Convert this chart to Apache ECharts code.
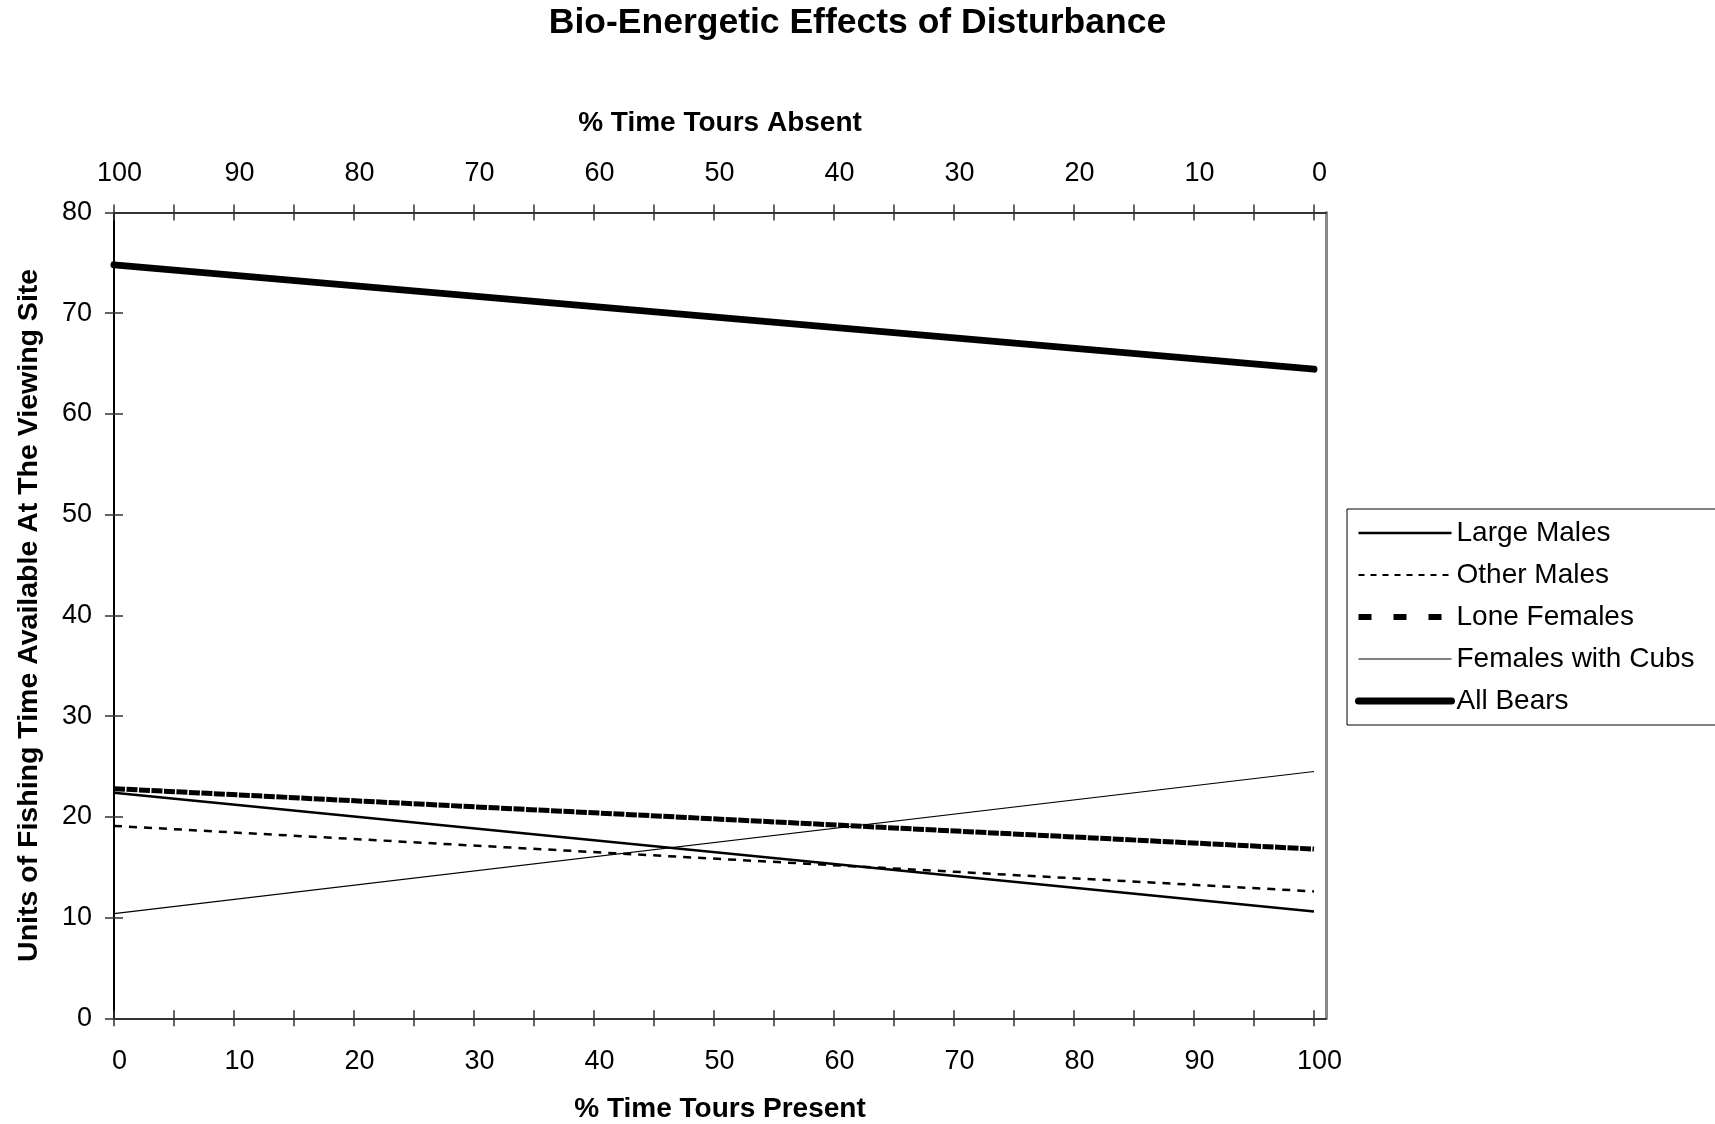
<!DOCTYPE html>
<html>
<head>
<meta charset="utf-8">
<script src="https://cdn.jsdelivr.net/npm/echarts@6/dist/echarts.min.js"></script>
<style>
html,body{margin:0;padding:0;background:#fff;}
#chart{width:1715px;height:1124px;}
</style>
</head>
<body>
<div id="chart"></div>
<script>
// ---- data ----
const xPresent = [0, 100];                 // % Time Tours Present
const largeMales = [22.4, 10.6];
const otherMales = [19.1, 12.6];
const loneFemales = [22.8, 16.8];
const femalesWithCubs = [10.4, 24.5];
const allBears = [74.8, 64.45];

const presentTickValues = [0,5,10,15,20,25,30,35,40,45,50,55,60,65,70,75,80,85,90,95,100];
const presentLabelValues = [0,10,20,30,40,50,60,70,80,90,100];
const absentLabelValues = [100,90,80,70,60,50,40,30,20,10,0];
const absentTickValues = [100,95,90,85,80,75,70,65,60,55,50,45,40,35,30,25,20,15,10,5,0];

const FONT = "'Liberation Sans', Arial, sans-serif";

function pairs(xs, ys) { return xs.map((x, i) => [x, ys[i]]); }

const chart = echarts.init(document.getElementById('chart'), null, {renderer: 'canvas'});

const tickStyle = {color: '#333', width: 1.5};
const baseX = {
  type: 'value', min: 0, max: 101, gridIndex: 0,
  splitLine: {show: false}
};

const option = {
  backgroundColor: '#fff',
  animation: false,
  title: {
    text: 'Bio-Energetic Effects of Disturbance',
    left: 'center', top: 5, padding: 0,
    textStyle: {fontFamily: FONT, fontSize: 35.5, fontWeight: 'bold', color: '#000'}
  },
  grid: {left: 114, top: 212.5, right: 389, bottom: 105.7, outerBoundsMode: 'none', containLabel: false},
  legend: {
    orient: 'vertical',
    left: 1347, top: 509,
    padding: [9, 45, 9, 8],
    borderColor: '#000', borderWidth: 1,
    itemWidth: 93, itemHeight: 10, itemGap: 12,
    itemStyle: {opacity: 0},
    lineStyle: {width: 'inherit'},
    textStyle: {fontFamily: FONT, fontSize: 28, color: '#000', lineHeight: 30},
    data: ['Large Males', 'Other Males', 'Lone Females', 'Females with Cubs', 'All Bears']
  },
  xAxis: [
    Object.assign({}, baseX, {
      position: 'bottom',
      name: '% Time Tours Present', nameLocation: 'middle', nameGap: 77,
      nameTextStyle: {fontFamily: FONT, fontSize: 28, fontWeight: 'bold', color: '#000'},
      axisLine: {show: true, onZero: false, lineStyle: {color: '#333', width: 2}},
      axisTick: {show: true, inside: false, length: 8, lineStyle: tickStyle, customValues: presentTickValues},
      axisLabel: {show: true, margin: 30, padding: [0, 0, 0, 11], fontFamily: FONT, fontSize: 27, color: '#000', customValues: presentLabelValues}
    }),
    Object.assign({}, baseX, {
      position: 'bottom',
      axisLine: {show: false, onZero: false},
      axisTick: {show: true, inside: true, length: 8, lineStyle: tickStyle, customValues: presentTickValues},
      axisLabel: {show: false}
    }),
    {
      type: 'value', min: -1, max: 100, inverse: true, position: 'top', gridIndex: 0,
      splitLine: {show: false},
      name: '% Time Tours Absent', nameLocation: 'middle', nameGap: 75,
      nameTextStyle: {fontFamily: FONT, fontSize: 28, fontWeight: 'bold', color: '#000'},
      axisLine: {show: true, onZero: false, lineStyle: {color: '#333', width: 2}},
      axisTick: {show: true, inside: false, length: 8, lineStyle: tickStyle, customValues: absentTickValues},
      axisLabel: {show: true, margin: 25, padding: [0, 0, 0, 11], fontFamily: FONT, fontSize: 27, color: '#000', customValues: absentLabelValues}
    },
    {
      type: 'value', min: -1, max: 100, inverse: true, position: 'top', gridIndex: 0,
      splitLine: {show: false},
      axisLine: {show: false, onZero: false},
      axisTick: {show: true, inside: true, length: 8, lineStyle: tickStyle, customValues: absentTickValues},
      axisLabel: {show: false}
    }
  ],
  yAxis: [
    {
      type: 'value', min: 0, max: 80, interval: 10, position: 'left',
      splitLine: {show: false},
      name: 'Units of Fishing Time Available At The Viewing Site',
      nameLocation: 'middle', nameGap: 70, nameRotate: 90,
      nameTextStyle: {fontFamily: FONT, fontSize: 28.5, fontWeight: 'bold', color: '#000'},
      axisLine: {show: true, onZero: false, lineStyle: {color: '#000', width: 2}},
      axisTick: {show: true, inside: false, length: 9, lineStyle: tickStyle},
      axisLabel: {margin: 22, fontFamily: FONT, fontSize: 27, color: '#000'}
    },
    {
      type: 'value', min: 0, max: 80, interval: 10, position: 'left',
      splitLine: {show: false},
      axisLine: {show: false, onZero: false},
      axisTick: {show: true, inside: true, length: 9, lineStyle: tickStyle},
      axisLabel: {show: false}
    },
    {
      type: 'value', min: 0, max: 80, interval: 10, position: 'right',
      splitLine: {show: false},
      axisLine: {show: true, onZero: false, lineStyle: {color: '#888', width: 3}},
      axisTick: {show: false},
      axisLabel: {show: false}
    }
  ],
  series: [
    // legend-style entries (empty) so the key can differ from the plotted dash pattern
    {name: 'Other Males', type: 'line', symbol: 'none', data: [],
      lineStyle: {color: '#000', width: 2, type: [6, 6]}},
    {name: 'Lone Females', type: 'line', symbol: 'none', data: [],
      lineStyle: {color: '#000', width: 6, type: [13, 22]}},
    // plotted series
    {name: 'Large Males', type: 'line', symbol: 'none', z: 3,
      data: pairs(xPresent, largeMales),
      lineStyle: {color: '#000', width: 2.5}},
    {name: 'Other Males', type: 'line', symbol: 'none', z: 3,
      data: pairs(xPresent, otherMales),
      lineStyle: {color: '#000', width: 2.5, type: [8, 7]}},
    {name: 'Lone Females', type: 'line', symbol: 'none', z: 2,
      data: pairs(xPresent, loneFemales),
      lineStyle: {color: '#000', width: 5, type: [11, 1.5]}},
    {name: 'Females with Cubs', type: 'line', symbol: 'none', z: 3,
      data: pairs(xPresent, femalesWithCubs),
      lineStyle: {color: '#000', width: 1.2}},
    {name: 'All Bears', type: 'line', symbol: 'none', z: 3,
      data: pairs(xPresent, allBears),
      lineStyle: {color: '#000', width: 7, cap: 'round'}}
  ]
};
chart.setOption(option);
</script>
</body>
</html>
